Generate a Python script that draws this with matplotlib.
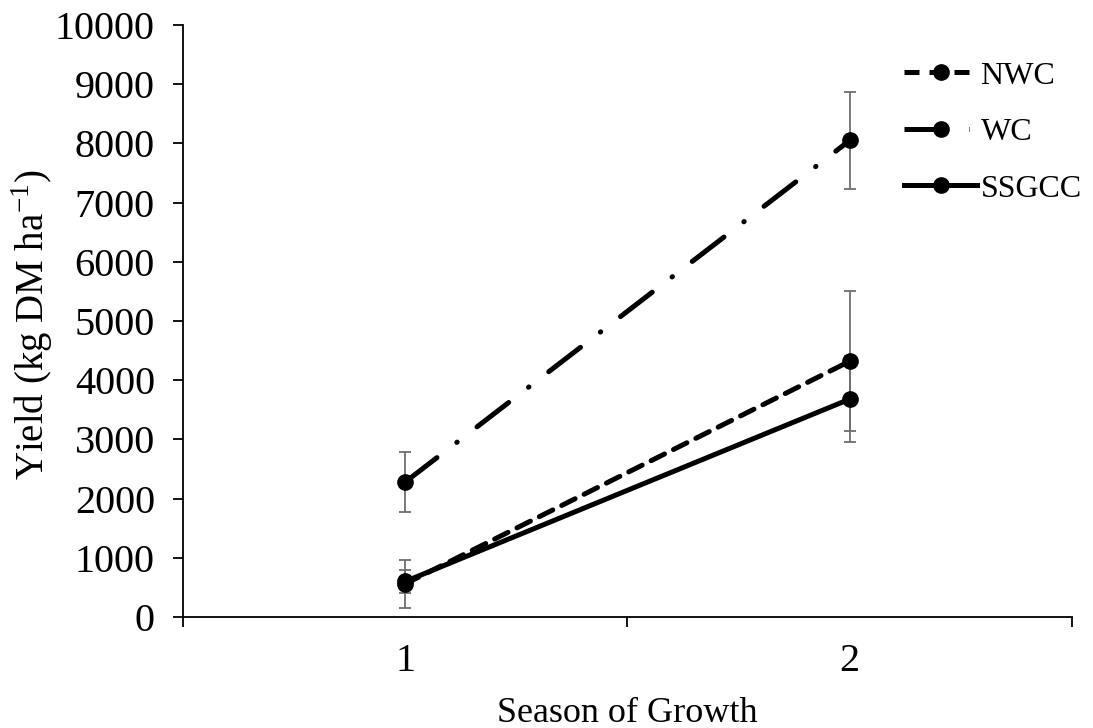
import matplotlib
matplotlib.use("Agg")
import matplotlib.pyplot as plt
from matplotlib.lines import Line2D

plt.rcParams["font.family"] = ["Liberation Serif", "DejaVu Serif"]

seasons = [1, 2]
series = ["NWC", "WC", "SSGCC"]
nwc = [560, 4320]
nwc_err = [400, 1180]
wc = [2280, 8050]
wc_err = [500, 820]
ssgcc = [600, 3680]
ssgcc_err = [190, 720]

styles = {
    "NWC": dict(linestyle=(0, (3, 2)), lw=3.6),
    "WC": dict(linestyle=(0, (8, 5, 0.1, 5)), lw=3.6),
    "SSGCC": dict(linestyle="-", lw=3.6),
}

fig = plt.figure(figsize=(10.93, 7.28), dpi=100)
ax = fig.add_axes([0.1674, 0.1525, 0.8134, 0.8132])

for name, vals, errs in [("NWC", nwc, nwc_err), ("WC", wc, wc_err), ("SSGCC", ssgcc, ssgcc_err)]:
    ax.errorbar(seasons, vals, yerr=errs, fmt="none", ecolor="#6e6e6e",
                elinewidth=1.3, capsize=4.5, capthick=1.3, zorder=2)
    ax.plot(seasons, vals, color="black", marker="o", markersize=11,
            solid_capstyle="round", dash_capstyle="round", zorder=3,
            **styles[name])

ax.set_xlim(0.5, 2.5)
ax.set_ylim(0, 10000)
ax.set_yticks(range(0, 10001, 1000))
ax.set_xticks([0.5, 1.5, 2.5])
ax.set_xticklabels([])
ax.set_xticks(seasons, minor=True)
ax.set_xticklabels(["1", "2"], minor=True)
ax.tick_params(axis="x", which="minor", length=0, labelsize=29, pad=19)
ax.tick_params(axis="x", which="major", length=7.2, width=1.3, direction="out")
ax.tick_params(axis="y", length=7.2, width=1.3, direction="out", labelsize=29, pad=13)

for s in ["top", "right"]:
    ax.spines[s].set_visible(False)
ax.spines["left"].set_linewidth(1.3)
ax.spines["bottom"].set_linewidth(1.3)

ax.set_xlabel("Season of Growth", fontsize=26, va="baseline")
ax.xaxis.set_label_coords(0.5, -0.1774)
ax.set_ylabel("Yield (kg DM ha$^{\\mathregular{-1}}$)", fontsize=28, va="center")
ax.yaxis.set_label_coords(-0.170, 0.493)

handles = [Line2D([0], [0], color="black", marker="o", markersize=11, **styles[n]) for n in series]
ax.legend(handles, series, loc="upper left", bbox_to_anchor=(0.827, 0.916),
          bbox_transform=fig.transFigure, frameon=False, borderpad=0, borderaxespad=0,
          fontsize=23, handlelength=2.3, handletextpad=0.1, labelspacing=0.85)

fig.savefig("out.png", dpi=100)
